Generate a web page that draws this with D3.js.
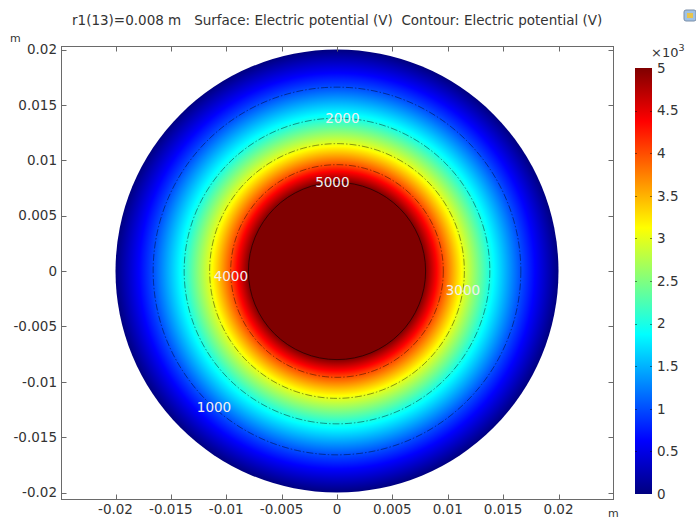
<!DOCTYPE html>
<html>
<head>
<meta charset="utf-8">
<script src="https://cdn.jsdelivr.net/npm/d3@7"></script>
<style>
  body { margin: 0; background: #fff; }
  svg text { font-family: "DejaVu Sans", sans-serif; }
</style>
</head>
<body>
<div class="chart"></div>
<script>
'use strict';

// radial potential profile (V at radius m)
var profileV = [0, 1000, 2000, 3000, 4000, 4500, 5000];
var profileR = [0.020, 0.0166, 0.0138, 0.0115, 0.0096, 0.0088, 0.008];

// contour levels (V)
var contourLevels = [1000, 2000, 3000, 4000, 5000];

// contour labels: level and the angle (deg, screen coords) where the label sits
var labelLevels = [1000, 2000, 3000, 4000, 5000];
var labelAngles = [132, -88, 8.5, 177, -93];

var xTicks = [-0.02, -0.015, -0.01, -0.005, 0, 0.005, 0.01, 0.015, 0.02];
var xTickLabels = ['-0.02', '-0.015', '-0.01', '-0.005', '0', '0.005', '0.01', '0.015', '0.02'];
var yTicks = [-0.02, -0.015, -0.01, -0.005, 0, 0.005, 0.01, 0.015, 0.02];
var yTickLabels = ['-0.02', '-0.015', '-0.01', '-0.005', '0', '0.005', '0.01', '0.015', '0.02'];

var cbTicks = [0, 500, 1000, 1500, 2000, 2500, 3000, 3500, 4000, 4500, 5000];
var cbTickLabels = ['0', '0.5', '1', '1.5', '2', '2.5', '3', '3.5', '4', '4.5', '5'];

// jet-like colour table
var cmapPos = [0, 0.125, 0.375, 0.625, 0.875, 1];
var cmapCol = ['#00007f', '#0000ff', '#00ffff', '#ffff00', '#ff0000', '#7f0000'];

var titleText = 'r1(13)=0.008 m   Surface: Electric potential (V)  Contour: Electric potential (V)';

(function () {
  var width = 696, height = 521;
  var frame = { left: 61, top: 46, right: 613, bottom: 499 };
  var fs = 13.5;

  var x = d3.scaleLinear().domain([-0.02, 0.02]).range([115.5, 558.5]);
  var y = d3.scaleLinear().domain([-0.02, 0.02]).range([492.5, 49.5]);
  var vmax = d3.max(profileV);
  var color = d3.scaleLinear().domain(cmapPos.map(function (p) { return p * vmax; }))
      .range(cmapCol).interpolate(d3.interpolateRgb).clamp(true);
  var rOfV = d3.scaleLinear().domain(profileV).range(profileR);
  var px = function (r) { return x(r) - x(0); };

  var svg = d3.select('.chart').append('svg')
      .attr('width', width).attr('height', height);
  var defs = svg.append('defs');

  var rMax = d3.max(profileR);
  var cx = x(0), cy = y(0), R = px(rMax);

  // radial gradient for the surface plot
  var vs = Array.from(d3.union(profileV, cmapPos.map(function (p) { return p * vmax; })))
      .sort(d3.descending);
  var rg = defs.append('radialGradient').attr('id', 'surf')
      .attr('gradientUnits', 'userSpaceOnUse')
      .attr('cx', cx).attr('cy', cy).attr('r', R);
  rg.selectAll('stop').data(vs).enter().append('stop')
      .attr('offset', function (v) { return rOfV(v) / rMax; })
      .attr('stop-color', function (v) { return color(v); });

  svg.append('circle').attr('cx', cx).attr('cy', cy).attr('r', R)
      .attr('fill', 'url(#surf)');

  // contours
  svg.selectAll('.contour').data(contourLevels.filter(function (v) { return v < vmax; }))
    .enter().append('circle')
      .attr('cx', cx).attr('cy', cy)
      .attr('r', function (v) { return px(rOfV(v)); })
      .attr('fill', 'none').attr('stroke', '#000').attr('stroke-opacity', 0.6)
      .attr('stroke-width', 0.7).attr('stroke-dasharray', '7,2,1.5,2');
  svg.append('circle').attr('cx', cx).attr('cy', cy).attr('r', px(rOfV(vmax)))
      .attr('fill', 'none').attr('stroke', '#3a0000').attr('stroke-width', 1);

  svg.selectAll('.clabel').data(labelLevels).enter().append('text')
      .attr('x', function (v, i) { return cx + px(rOfV(v)) * Math.cos(labelAngles[i] * Math.PI / 180); })
      .attr('y', function (v, i) { return cy + px(rOfV(v)) * Math.sin(labelAngles[i] * Math.PI / 180); })
      .attr('dy', '0.36em').attr('text-anchor', 'middle')
      .attr('font-size', fs).attr('fill', '#f0f0f0')
      .text(function (v) { return v; });

  // frame and ticks
  var g = svg.append('g').attr('stroke', '#6a6a6a').attr('stroke-width', 1);
  g.append('rect').attr('x', frame.left + 0.5).attr('y', frame.top + 0.5)
      .attr('width', frame.right - frame.left).attr('height', frame.bottom - frame.top)
      .attr('fill', 'none');
  var tl = 5;
  xTicks.forEach(function (t) {
    var xx = Math.round(x(t)) + 0.5;
    g.append('line').attr('x1', xx).attr('x2', xx).attr('y1', frame.bottom + 0.5).attr('y2', frame.bottom + 0.5 - tl);
    g.append('line').attr('x1', xx).attr('x2', xx).attr('y1', frame.top + 0.5).attr('y2', frame.top + 0.5 + tl);
  });
  yTicks.forEach(function (t) {
    var yy = Math.round(y(t)) + 0.5;
    g.append('line').attr('y1', yy).attr('y2', yy).attr('x1', frame.left + 0.5).attr('x2', frame.left + 0.5 + tl);
    g.append('line').attr('y1', yy).attr('y2', yy).attr('x1', frame.right + 0.5).attr('x2', frame.right + 0.5 - tl);
  });

  svg.selectAll('.xl').data(xTicks).enter().append('text')
      .attr('x', function (d) { return x(d); }).attr('y', 514)
      .attr('text-anchor', 'middle').attr('font-size', fs).attr('fill', '#333')
      .text(function (d, i) { return xTickLabels[i]; });
  svg.selectAll('.yl').data(yTicks).enter().append('text')
      .attr('x', 57).attr('y', function (d) { return y(d); }).attr('dy', '0.36em')
      .attr('text-anchor', 'end').attr('font-size', fs).attr('fill', '#333')
      .text(function (d, i) { return yTickLabels[i]; });

  svg.append('text').attr('x', 10).attr('y', 42).attr('font-size', 11).attr('fill', '#333').text('m');
  svg.append('text').attr('x', 608).attr('y', 517).attr('font-size', 11).attr('fill', '#333').text('m');

  svg.append('text').attr('x', 72).attr('y', 25).attr('font-size', fs).attr('fill', '#333')
      .attr('xml:space', 'preserve').style('white-space', 'pre').text(titleText);

  // small toolbar icon at top right
  svg.append('rect').attr('x', 684).attr('y', 10).attr('width', 12).attr('height', 11)
      .attr('rx', 2).attr('fill', '#9fc2e6').attr('stroke', '#7a8fa8');
  svg.append('rect').attr('x', 687).attr('y', 13).attr('width', 6).attr('height', 5)
      .attr('fill', '#e8c44c');

  // colour bar
  var cbX = 635, cbW = 17;
  var cbY = d3.scaleLinear().domain([0, vmax]).range([494, 68]);
  var lg = defs.append('linearGradient').attr('id', 'cbar')
      .attr('x1', 0).attr('y1', 1).attr('x2', 0).attr('y2', 0);
  lg.selectAll('stop').data(cmapPos).enter().append('stop')
      .attr('offset', function (p) { return p; })
      .attr('stop-color', function (p, i) { return cmapCol[i]; });
  svg.append('rect').attr('x', cbX).attr('y', cbY(vmax)).attr('width', cbW)
      .attr('height', cbY(0) - cbY(vmax)).attr('fill', 'url(#cbar)');
  var cbt = svg.append('g').attr('stroke', '#000').attr('stroke-opacity', 0.45);
  cbTicks.slice(1, -1).forEach(function (d) {
    var yy = Math.round(cbY(d)) + 0.5;
    cbt.append('line').attr('x1', cbX).attr('x2', cbX + 2).attr('y1', yy).attr('y2', yy);
    cbt.append('line').attr('x1', cbX + cbW - 2).attr('x2', cbX + cbW).attr('y1', yy).attr('y2', yy);
  });
  svg.selectAll('.cbl').data(cbTicks).enter().append('text')
      .attr('x', 657).attr('y', function (d) { return cbY(d); }).attr('dy', '0.36em')
      .attr('font-size', fs).attr('fill', '#333')
      .text(function (d, i) { return cbTickLabels[i]; });
  var ex = svg.append('text').attr('x', 651).attr('y', 57).attr('font-size', 13).attr('fill', '#333');
  ex.append('tspan').text('\u00d710');
  ex.append('tspan').attr('dy', -6).attr('font-size', 9.5).text('3');
})();
</script>
</body>
</html>
